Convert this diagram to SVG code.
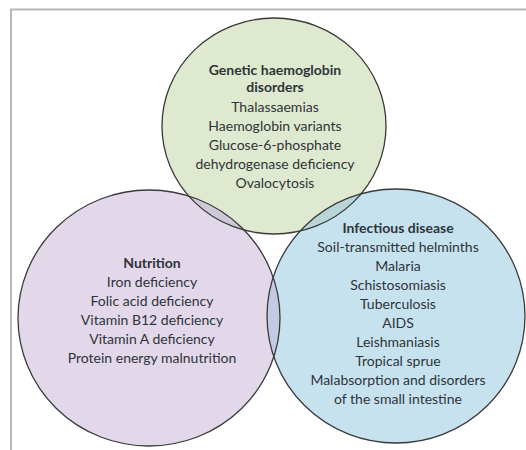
<svg xmlns="http://www.w3.org/2000/svg" xmlns:xlink="http://www.w3.org/1999/xlink" width="526" height="450" viewBox="0 0 526 450">
<style>
  .txt { font-family: Lato, "Open Sans", "DejaVu Sans", sans-serif; font-size: 14px; fill: #2e3439; text-anchor: middle; }
  .hd { font-weight: bold; }
  .outline { fill: none; stroke: #3a3a3a; stroke-width: 1.3; }
  .frame { stroke: #b8b8b8; stroke-width: 2; fill: none; }
</style>
<defs>
  <ellipse id="eG" cx="274" cy="126" rx="112" ry="108"/>
  <ellipse id="eP" cx="149" cy="318" rx="131" ry="128"/>
  <ellipse id="eB" cx="396" cy="316" rx="129" ry="127"/>
  <clipPath id="cG"><use xlink:href="#eG"/></clipPath>
  <clipPath id="cP"><use xlink:href="#eP"/></clipPath>
</defs>
<rect width="526" height="450" fill="#ffffff"/>
<path class="frame" d="M11,450 V9.5 H526"/>

<g id="genetic">
  <use xlink:href="#eG" fill="#dfe9cf"/>
  <text class="txt hd" x="275" y="75">Genetic haemoglobin</text>
  <text class="txt hd" x="275" y="92">disorders</text>
  <text class="txt" x="275" y="112">Thalassaemias</text>
  <text class="txt" x="275" y="131">Haemoglobin variants</text>
  <text class="txt" x="275" y="150">Glucose-6-phosphate</text>
  <text class="txt" x="275" y="169">dehydrogenase deficiency</text>
  <text class="txt" x="275" y="188">Ovalocytosis</text>
</g>

<g id="nutrition">
  <use xlink:href="#eP" fill="#e2d8ea"/>
  <text class="txt hd" x="152" y="268">Nutrition</text>
  <text class="txt" x="152" y="287">Iron deficiency</text>
  <text class="txt" x="152" y="306">Folic acid deficiency</text>
  <text class="txt" x="152" y="325">Vitamin B12 deficiency</text>
  <text class="txt" x="152" y="344">Vitamin A deficiency</text>
  <text class="txt" x="152" y="363">Protein energy malnutrition</text>
</g>

<g id="infectious">
  <use xlink:href="#eB" fill="#c7e2ef"/>
  <text class="txt hd" x="398" y="233">Infectious disease</text>
  <text class="txt" x="398" y="252">Soil-transmitted helminths</text>
  <text class="txt" x="398" y="271">Malaria</text>
  <text class="txt" x="398" y="290">Schistosomiasis</text>
  <text class="txt" x="398" y="309">Tuberculosis</text>
  <text class="txt" x="398" y="328">AIDS</text>
  <text class="txt" x="398" y="347">Leishmaniasis</text>
  <text class="txt" x="398" y="366">Tropical sprue</text>
  <text class="txt" x="398" y="385">Malabsorption and disorders</text>
  <text class="txt" x="398" y="404">of the small intestine</text>
</g>

<g id="overlaps">
  <use xlink:href="#eP" fill="#cdc9d8" clip-path="url(#cG)"/>
  <use xlink:href="#eB" fill="#b8d5d7" clip-path="url(#cG)"/>
  <use xlink:href="#eB" fill="#c4cae3" clip-path="url(#cP)"/>
</g>

<g id="outlines">
  <use xlink:href="#eG" class="outline"/>
  <use xlink:href="#eP" class="outline"/>
  <use xlink:href="#eB" class="outline"/>
</g>
</svg>
